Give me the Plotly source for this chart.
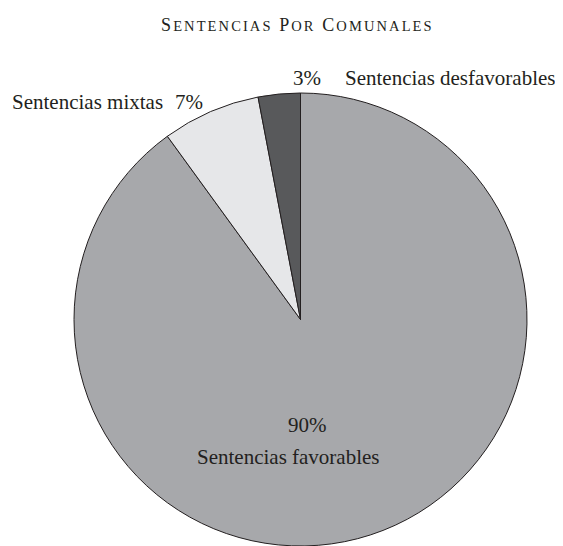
import plotly.graph_objects as go

# Data
categories = ["Sentencias favorables", "Sentencias mixtas", "Sentencias desfavorables"]
values = [90, 7, 3]
colors = ["#a7a8ab", "#e6e7e9", "#58595b"]
title_words = ["SENTENCIAS", "POR", "COMUNALES"]

# page has an 8px body margin: figure is placed at (8, 8)
OFF = 8
W, H = 563 - OFF, 546 - OFF
FONT = "Liberation Serif, Times New Roman, serif"
TXT = "#231f20"

def px(x):
    return (x - OFF) / W

def py(y):
    return 1 - (y - OFF) / H

total = sum(values)
pct = [f"{round(v / total * 100)}%" for v in values]

fig = go.Figure(go.Pie(
    labels=categories,
    values=values,
    sort=False,
    direction="clockwise",
    rotation=0,
    marker=dict(colors=colors, line=dict(color=TXT, width=1)),
    textinfo="none",
    hoverinfo="label+percent",
    showlegend=False,
    domain=dict(x=[px(74), px(527)], y=[0, py(93)]),
))

fs = 21
ann = [
    # favorables
    dict(x=px(307), y=py(425), text=pct[0], xanchor="center"),
    dict(x=px(288), y=py(457), text=categories[0], xanchor="center"),
    # mixtas
    dict(x=px(10), y=py(102), text=categories[1], xanchor="left"),
    dict(x=px(205), y=py(102), text=pct[1], xanchor="right"),
    # desfavorables
    dict(x=px(291), y=py(78), text=pct[2], xanchor="left"),
    dict(x=px(558), y=py(78), text=categories[2], xanchor="right"),
]
annotations = []
for a in ann:
    a.update(xref="paper", yref="paper", yanchor="middle", showarrow=False,
             font=dict(family=FONT, size=fs, color=TXT))
    annotations.append(a)

# manual small caps title
small = 'font-size:14.5px'
parts = []
for w in title_words:
    parts.append(f'{w[0]}<span style="{small}">{w[1:]}</span>')
title_html = '<span style="letter-spacing:2.1px">' + ' '.join(parts) + '</span>'

annotations.append(dict(
    x=px(297), y=py(25), xref="paper", yref="paper", xanchor="center", yanchor="middle",
    text=title_html, showarrow=False,
    font=dict(family=FONT, size=18, color=TXT),
))

fig.update_layout(
    width=W, height=H,
    margin=dict(l=0, r=0, t=0, b=0),
    paper_bgcolor="white",
    plot_bgcolor="white",
    annotations=annotations,
)

fig.write_html("out.html")
